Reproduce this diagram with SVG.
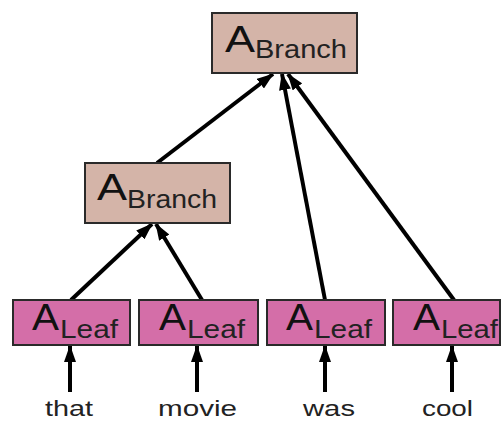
<svg xmlns="http://www.w3.org/2000/svg" width="502" height="421" viewBox="0 0 502 421">
  <defs>
    <marker id="head" markerUnits="userSpaceOnUse" markerWidth="17" markerHeight="12" refX="16" refY="6" orient="auto">
      <path d="M0,0 L17,6 L0,12 Z" fill="#000"/>
    </marker>
    <style>
      .branch { fill: #d4b4a8; stroke: #2a2a2a; stroke-width: 2; }
      .leaf { fill: #d46ea8; stroke: #2a2a2a; stroke-width: 2; }
      .big { font-family: "Liberation Sans", Arial, sans-serif; font-size: 36px; fill: #111; }
      .sub { font-family: "Liberation Sans", Arial, sans-serif; font-size: 25px; fill: #222; }
      .word { font-family: "Liberation Sans", Arial, sans-serif; font-size: 22px; fill: #222; }
      .edge { stroke: #000; stroke-width: 4; fill: none; marker-end: url(#head); }
    </style>
  </defs>

  <g id="connectors">
    <line class="edge" x1="157" y1="163" x2="273" y2="74"/>
    <line class="edge" x1="325" y1="300" x2="282" y2="74"/>
    <line class="edge" x1="454" y1="300" x2="288" y2="74"/>
    <line class="edge" x1="71" y1="300" x2="152" y2="224"/>
    <line class="edge" x1="202" y1="300" x2="156" y2="224"/>
    <line class="edge" x1="70" y1="392" x2="70" y2="346"/>
    <line class="edge" x1="197" y1="392" x2="197" y2="346"/>
    <line class="edge" x1="325" y1="392" x2="325" y2="346"/>
    <line class="edge" x1="452" y1="392" x2="452" y2="346"/>
  </g>

  <g id="branch-root">
    <rect class="branch" x="212" y="13" width="145" height="60"/>
    <text class="big" x="225" y="52" textLength="30" lengthAdjust="spacingAndGlyphs">A</text>
    <text class="sub" x="255" y="58" textLength="92" lengthAdjust="spacingAndGlyphs">Branch</text>
  </g>

  <g id="branch-mid">
    <rect class="branch" x="85" y="163" width="145" height="60"/>
    <text class="big" x="97" y="200" textLength="30" lengthAdjust="spacingAndGlyphs">A</text>
    <text class="sub" x="127" y="208" textLength="90" lengthAdjust="spacingAndGlyphs">Branch</text>
  </g>

  <g id="leaf-that">
    <rect class="leaf" x="13" y="300" width="117" height="45"/>
    <text class="big" x="32" y="330" textLength="27" lengthAdjust="spacingAndGlyphs">A</text>
    <text class="sub" x="60" y="338" textLength="58" lengthAdjust="spacingAndGlyphs">Leaf</text>
  </g>

  <g id="leaf-movie">
    <rect class="leaf" x="139" y="300" width="119" height="45"/>
    <text class="big" x="159" y="330" textLength="27" lengthAdjust="spacingAndGlyphs">A</text>
    <text class="sub" x="187" y="338" textLength="58" lengthAdjust="spacingAndGlyphs">Leaf</text>
  </g>

  <g id="leaf-was">
    <rect class="leaf" x="267" y="300" width="118" height="45"/>
    <text class="big" x="286" y="330" textLength="27" lengthAdjust="spacingAndGlyphs">A</text>
    <text class="sub" x="314" y="338" textLength="58" lengthAdjust="spacingAndGlyphs">Leaf</text>
  </g>

  <g id="leaf-cool">
    <rect class="leaf" x="393" y="300" width="107" height="45"/>
    <text class="big" x="413" y="330" textLength="27" lengthAdjust="spacingAndGlyphs">A</text>
    <text class="sub" x="441" y="338" textLength="57" lengthAdjust="spacingAndGlyphs">Leaf</text>
  </g>

  <g id="words">
    <text class="word" x="45" y="416" textLength="48" lengthAdjust="spacingAndGlyphs">that</text>
    <text class="word" x="158" y="416" textLength="79" lengthAdjust="spacingAndGlyphs">movie</text>
    <text class="word" x="303" y="416" textLength="52" lengthAdjust="spacingAndGlyphs">was</text>
    <text class="word" x="422" y="416" textLength="51" lengthAdjust="spacingAndGlyphs">cool</text>
  </g>
</svg>
